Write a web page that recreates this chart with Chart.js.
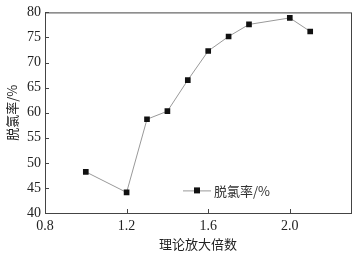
<!DOCTYPE html>
<html>
<head>
<meta charset="utf-8">
<script src="https://cdn.jsdelivr.net/npm/chart.js@4"></script>
<style>
  html, body { margin: 0; padding: 0; background: #fff; }
  #wrap { width: 361px; height: 256px; }
</style>
</head>
<body>
<div id="wrap"><canvas id="chart" width="361" height="256"></canvas></div>
<script>
const factors = [1.0, 1.2, 1.3, 1.4, 1.5, 1.6, 1.7, 1.8, 2.0, 2.1];
const removalRate = [48.2, 44.1, 58.7, 60.3, 66.5, 72.3, 75.2, 77.6, 78.9, 76.2];
const xTicks = [0.8, 1.2, 1.6, 2.0];
const yTicks = [40, 45, 50, 55, 60, 65, 70, 75, 80];
const seriesName = '脱氯率/%';

const numFont = { family: '"Liberation Serif", "DejaVu Serif", serif', size: 14 };
const cjkFont = '"Noto Sans CJK SC", sans-serif';

// frame, inner ticks and the legend inside the plot
const framePlugin = {
    id: 'frame',
    afterDraw(chart) {
        const ctx = chart.ctx;
        const a = chart.chartArea;
        const xs = chart.scales.x, ys = chart.scales.y;
        ctx.save();
        ctx.strokeStyle = '#444';
        ctx.lineWidth = 1;
        ctx.strokeRect(a.left + 0.5, a.top + 0.5, a.right - a.left, a.bottom - a.top);
        ctx.beginPath();
        xTicks.forEach(v => {
            const px = Math.round(xs.getPixelForValue(v)) + 0.5;
            ctx.moveTo(px, a.bottom);
            ctx.lineTo(px, a.bottom - 4);
        });
        yTicks.forEach(v => {
            const py = Math.round(ys.getPixelForValue(v)) + 0.5;
            ctx.moveTo(a.left, py);
            ctx.lineTo(a.left + 4, py);
        });
        ctx.stroke();

        // legend
        const ds = chart.data.datasets[0];
        const lx = a.left + 138, ly = a.top + 178;
        ctx.strokeStyle = ds.borderColor;
        ctx.beginPath();
        ctx.moveTo(lx, ly + 0.5);
        ctx.lineTo(lx + 28, ly + 0.5);
        ctx.stroke();
        ctx.fillStyle = ds.pointBackgroundColor;
        ctx.fillRect(lx + 11, ly - 3, 6, 6);
        ctx.fillStyle = '#333';
        ctx.font = '13px ' + cjkFont;
        ctx.textBaseline = 'middle';
        ctx.fillText(ds.label, lx + 31, ly + 1);
        ctx.restore();
    }
};

new Chart(document.getElementById('chart'), {
    type: 'line',
    data: {
        datasets: [{
            label: seriesName,
            data: factors.map((f, i) => ({ x: f, y: removalRate[i] })),
            borderColor: '#999',
            borderWidth: 1,
            pointStyle: 'rect',
            pointRadius: 4,
            pointBackgroundColor: '#111',
            pointBorderColor: '#111',
            pointBorderWidth: 0,
            tension: 0
        }]
    },
    options: {
        responsive: false,
        animation: false,
        layout: { padding: { top: 8, right: 10, left: 0, bottom: 0 } },
        plugins: {
            legend: { display: false },
            tooltip: { enabled: false }
        },
        scales: {
            x: {
                type: 'linear',
                min: 0.8,
                max: 2.3,
                afterBuildTicks: s => { s.ticks = xTicks.map(v => ({ value: v })); },
                afterFit: s => { s.height = 43; },
                grid: { display: false, drawTicks: false },
                border: { display: false },
                ticks: {
                    color: '#222',
                    font: numFont,
                    padding: 5,
                    maxRotation: 0,
                    callback: v => v.toFixed(1)
                },
                title: {
                    display: true,
                    text: '理论放大倍数',
                    color: '#222',
                    font: { family: cjkFont, size: 13 },
                    padding: { top: 4 }
                }
            },
            y: {
                min: 40,
                max: 80,
                afterBuildTicks: s => { s.ticks = yTicks.map(v => ({ value: v })); },
                afterFit: s => { s.width = 45; },
                grid: { display: false, drawTicks: false },
                border: { display: false },
                ticks: {
                    color: '#222',
                    font: numFont,
                    padding: 4
                },
                title: {
                    display: true,
                    text: seriesName,
                    color: '#222',
                    font: { family: cjkFont, size: 13 },
                    padding: { bottom: 2 }
                }
            }
        }
    },
    plugins: [framePlugin]
});
</script>
</body>
</html>
